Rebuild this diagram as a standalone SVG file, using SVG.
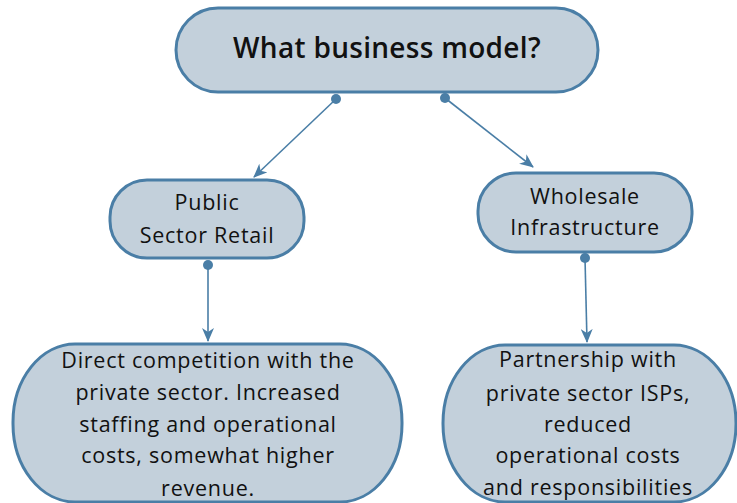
<svg xmlns="http://www.w3.org/2000/svg" width="737" height="503" viewBox="0 0 737 503">
<style>
.node{fill:#c3d0db;stroke:#4a7ea6;stroke-width:3}
.t{font-family:"Open Sans","Noto Sans",sans-serif;font-size:21.5px;fill:#111;text-anchor:middle;letter-spacing:0.75px}
.title{font-family:"Open Sans","Noto Sans",sans-serif;font-size:28px;font-weight:600;fill:#111;text-anchor:middle;letter-spacing:0.3px}
.c{stroke:#4a7ea6;stroke-width:1.6;fill:none;marker-end:url(#ah)}
.dot{fill:#4a7ea6}
</style>
<defs>
<marker id="ah" viewBox="0 0 14 12" refX="13" refY="6" markerWidth="14" markerHeight="12" markerUnits="userSpaceOnUse" orient="auto">
<path d="M0,0 L14,6 L0,12 L4,6 Z" fill="#4a7ea6"/>
</marker>
</defs>
<rect width="737" height="503" fill="#fff"/>
<g id="connectors">
<line class="c" x1="336" y1="99" x2="254" y2="177"/>
<circle class="dot" cx="336" cy="99" r="5"/>
<line class="c" x1="445" y1="98" x2="533" y2="167"/>
<circle class="dot" cx="445" cy="98" r="5"/>
<line class="c" x1="208" y1="265" x2="208" y2="341"/>
<circle class="dot" cx="208" cy="265" r="5"/>
<line class="c" x1="585" y1="258" x2="587" y2="342"/>
<circle class="dot" cx="585" cy="258" r="5"/>
</g>
<g id="n-top">
<rect class="node" x="176" y="8" width="422" height="84" rx="42"/>
<text class="title" x="387" y="58">What business model?</text>
</g>
<g id="n-public">
<rect class="node" x="110" y="180" width="194" height="78" rx="37"/>
<text class="t" x="207" y="210">Public</text>
<text class="t" x="207" y="243">Sector Retail</text>
</g>
<g id="n-wholesale">
<rect class="node" x="478" y="173" width="214" height="79" rx="38"/>
<text class="t" x="585" y="204">Wholesale</text>
<text class="t" x="585" y="235">Infrastructure</text>
</g>
<g id="n-public-desc">
<rect class="node" x="13" y="344" width="389" height="158" rx="62" ry="78"/>
<text class="t" x="208" y="368">Direct competition with the</text>
<text class="t" x="208" y="400">private sector. Increased</text>
<text class="t" x="208" y="432">staffing and operational</text>
<text class="t" x="208" y="463">costs, somewhat higher</text>
<text class="t" x="208" y="496">revenue.</text>
</g>
<g id="n-wholesale-desc">
<rect class="node" x="443" y="345" width="293" height="157" rx="62" ry="78"/>
<text class="t" x="588" y="367">Partnership with</text>
<text class="t" x="588" y="401">private sector ISPs,</text>
<text class="t" x="588" y="432">reduced</text>
<text class="t" x="588" y="463">operational costs</text>
<text class="t" x="588" y="495">and responsibilities</text>
</g>
</svg>
